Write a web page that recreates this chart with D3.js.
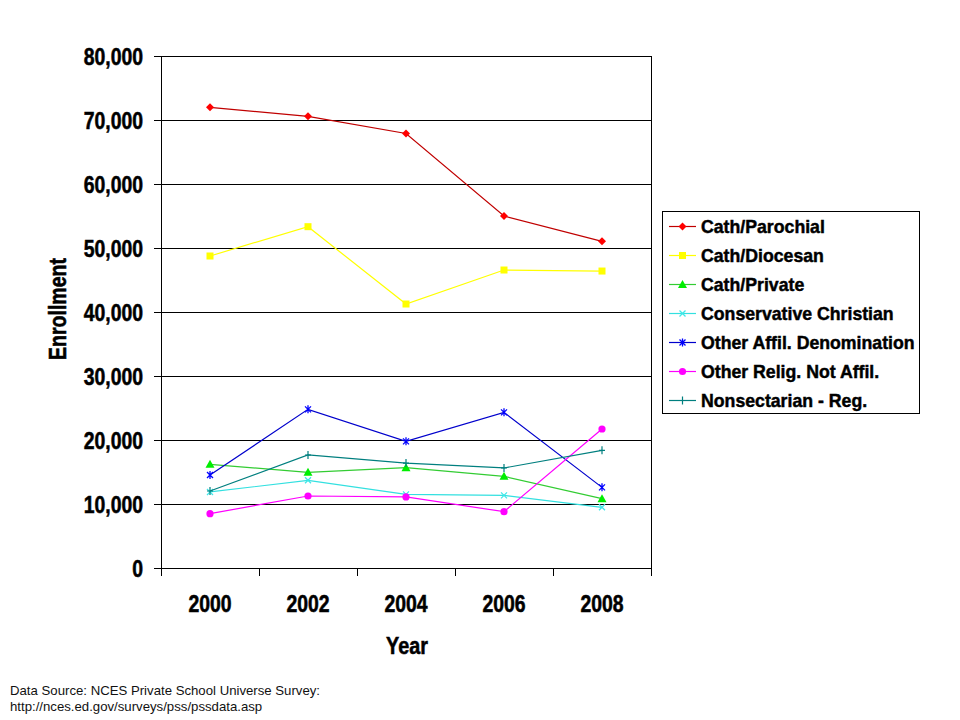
<!DOCTYPE html>
<html><head><meta charset="utf-8">
<script src="https://cdn.jsdelivr.net/npm/d3@7"></script>
<style>
body{margin:0;background:#fff;}
svg{display:block;}
</style></head>
<body>
<svg id="chart" width="960" height="720"></svg>
<script>
const years = ["2000","2002","2004","2006","2008"];
const seriesNames = ["Cath/Parochial","Cath/Diocesan","Cath/Private","Conservative Christian","Other Affil. Denomination","Other Relig. Not Affil.","Nonsectarian - Reg."];
const parochial = [71980, 70570, 67900, 55000, 51040];
const diocesan = [48750, 53330, 41250, 46560, 46400];
const privateCath = [16200, 14950, 15680, 14320, 10830];
const conservative = [11880, 13700, 11510, 11350, 9480];
const otherAffil = [14530, 24790, 19790, 24320, 12600];
const otherRelig = [8490, 11250, 11100, 8800, 21720];
const nonsectarian = [12030, 17660, 16400, 15630, 18390];
const yTicks = [0,10000,20000,30000,40000,50000,60000,70000,80000];

const seriesValues = [parochial, diocesan, privateCath, conservative, otherAffil, otherRelig, nonsectarian];
const lineColors = ["#c00000","#ffff00","#33cc33","#33e0e0","#0000cc","#ff00ff","#007f7f"];
const markColors = ["#ff0000","#ffff00","#00ee00","#40e8e8","#0000ff","#ff00ff","#007f7f"];
const markers = ["diamond","square","triangle","x","star","circle","plus"];

const svg = d3.select("#chart");
const L=161, R=651, T=56, B=568;
const x = d3.scaleBand().domain(years).range([L,R]);
const y = d3.scaleLinear().domain([0,80000]).range([B,T]);
const cx = d => x(d) + x.bandwidth()/2;
const boldFont = "'Liberation Sans', Arial, sans-serif";

function heavy(sel){ return sel.attr("stroke","#000").attr("stroke-width",0.45).attr("paint-order","fill"); }

// gridlines
svg.append("g").selectAll("line").data(yTicks.filter(t=>t>0)).join("line")
  .attr("x1",L).attr("x2",R).attr("y1",d=>y(d)+0.5).attr("y2",d=>y(d)+0.5)
  .attr("stroke","#000").attr("stroke-width",1);
// plot border
svg.append("rect").attr("x",L+0.5).attr("y",T+0.5).attr("width",R-L).attr("height",B-T)
  .attr("fill","none").attr("stroke","#000").attr("stroke-width",1);

// y axis ticks
const ya = svg.append("g");
ya.selectAll("line").data(yTicks).join("line")
  .attr("x1",L-7).attr("x2",L).attr("y1",d=>y(d)+0.5).attr("y2",d=>y(d)+0.5).attr("stroke","#000");
heavy(ya.selectAll("text").data(yTicks).join("text")
  .attr("transform",d=>`translate(143,${y(d)+8.5}) scale(1,1.2)`)
  .attr("text-anchor","end").attr("font-family",boldFont).attr("font-weight","bold")
  .attr("font-size","19.4px").attr("fill","#000").text(d=>d3.format(",")(d)));

// x axis ticks (between categories)
const xEdges = years.map(d=>x(d)).concat([R]);
svg.append("g").selectAll("line").data(xEdges).join("line")
  .attr("x1",d=>d+0.5).attr("x2",d=>d+0.5).attr("y1",B).attr("y2",B+8).attr("stroke","#000");
heavy(svg.append("g").selectAll("text").data(years).join("text")
  .attr("transform",d=>`translate(${cx(d)},611.5) scale(1,1.2)`)
  .attr("text-anchor","middle").attr("font-family",boldFont).attr("font-weight","bold")
  .attr("font-size","19.4px").attr("fill","#000").text(d=>d));

// axis titles
heavy(svg.append("text").attr("transform","translate(407,654) scale(1,1.2)")
  .attr("text-anchor","middle").attr("font-family",boldFont).attr("font-weight","bold")
  .attr("font-size","19.8px").text("Year"));
heavy(svg.append("text").attr("transform","translate(66,309) rotate(-90) scale(1,1.25)")
  .attr("text-anchor","middle").attr("font-family",boldFont).attr("font-weight","bold")
  .attr("font-size","19.5px").text("Enrollment"));

// source note
svg.append("text").attr("x",10).attr("y",695).attr("font-family","'Liberation Sans', Arial, sans-serif")
  .attr("font-size","13.2px").attr("fill","#111").text("Data Source: NCES Private School Universe Survey:");
svg.append("text").attr("x",10).attr("y",711).attr("font-family","'Liberation Sans', Arial, sans-serif")
  .attr("font-size","13.2px").attr("fill","#111").text("http://nces.ed.gov/surveys/pss/pssdata.asp");

function drawMarker(g, type, px, py, color){
  if(type==="diamond"){
    g.append("path").attr("d",`M${px},${py-4}L${px+4},${py}L${px},${py+4}L${px-4},${py}Z`).attr("fill",color);
  } else if(type==="square"){
    g.append("rect").attr("x",px-3.5).attr("y",py-3.5).attr("width",7).attr("height",7).attr("fill",color);
  } else if(type==="triangle"){
    g.append("path").attr("d",`M${px},${py-4.5}L${px+4.5},${py+3.5}L${px-4.5},${py+3.5}Z`).attr("fill",color);
  } else if(type==="x"){
    g.append("path").attr("d",`M${px-3},${py-3}L${px+3},${py+3}M${px-3},${py+3}L${px+3},${py-3}`).attr("stroke",color).attr("stroke-width",1.3);
  } else if(type==="star"){
    g.append("path").attr("d",`M${px-3},${py-3}L${px+3},${py+3}M${px-3},${py+3}L${px+3},${py-3}M${px},${py-4}L${px},${py+4}`).attr("stroke",color).attr("stroke-width",1.3);
  } else if(type==="circle"){
    g.append("circle").attr("cx",px).attr("cy",py).attr("r",3.6).attr("fill",color);
  } else if(type==="plus"){
    g.append("path").attr("d",`M${px},${py-4}L${px},${py+4}M${px-3},${py}L${px+3},${py}`).attr("stroke",color).attr("stroke-width",1.2);
  }
}

// series lines
const line = d3.line().x((v,i)=>cx(years[i])).y(v=>y(v));
seriesValues.forEach((vals,si)=>{
  const g = svg.append("g");
  g.append("path").datum(vals).attr("d",line).attr("fill","none")
    .attr("stroke",lineColors[si]).attr("stroke-width",1.2);
  vals.forEach((v,i)=>drawMarker(g, markers[si], cx(years[i]), y(v), markColors[si]));
});

// legend
const lg = svg.append("g");
lg.append("rect").attr("x",662.5).attr("y",211.5).attr("width",257).attr("height",202)
  .attr("fill","#fff").attr("stroke","#000");
seriesNames.forEach((name,i)=>{
  const ly = 226 + i*29;
  lg.append("line").attr("x1",669).attr("x2",696).attr("y1",ly+0.5).attr("y2",ly+0.5)
    .attr("stroke",lineColors[i]).attr("stroke-width",1.2);
  drawMarker(lg, markers[i], 682.5, ly+0.5, markColors[i]);
  heavy(lg.append("text").attr("x",701).attr("y",ly+7).attr("font-family",boldFont)
    .attr("font-weight","bold").attr("font-size","17.7px").attr("fill","#000").text(name));
});
</script>
</body></html>
